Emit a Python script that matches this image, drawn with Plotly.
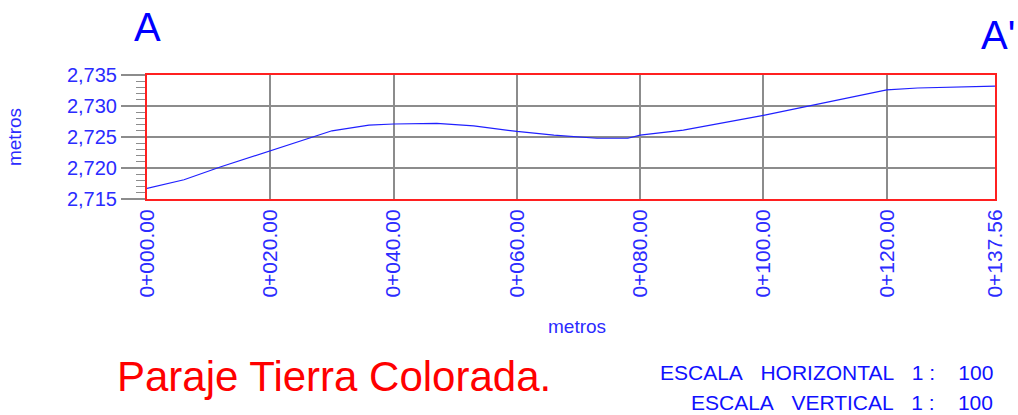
import plotly.graph_objects as go

# Profile data (station in metres, elevation)
stations = [0, 6, 12, 20, 28, 30, 36, 40, 47, 53, 60, 66, 73, 78, 80, 87, 100, 110, 120, 125, 137.56]
elevations = [2716.7, 2718.1, 2720.2, 2722.8, 2725.3, 2726.0, 2726.9, 2727.1, 2727.2, 2726.8,
              2725.9, 2725.3, 2724.8, 2724.8, 2725.3, 2726.1, 2728.5, 2730.5, 2732.6, 2732.9, 2733.2]

x_tick_vals = [0, 20, 40, 60, 80, 100, 120, 137.56]
x_tick_text = ["0+000.00", "0+020.00", "0+040.00", "0+060.00", "0+080.00",
               "0+100.00", "0+120.00", "0+137.56"]
y_tick_vals = [2715, 2720, 2725, 2730, 2735]
y_tick_text = ["2,715", "2,720", "2,725", "2,730", "2,735"]

BLUE = "#2b2bff"
FONT = "Liberation Sans, Arial, sans-serif"

fig = go.Figure()
fig.add_trace(go.Scatter(x=stations, y=elevations, mode="lines",
                         line=dict(color="#2020ff", width=1.2), hoverinfo="skip"))

fig.update_layout(
    width=1018, height=415,
    margin=dict(l=147, r=21, t=75, b=216),
    paper_bgcolor="white", plot_bgcolor="white",
    showlegend=False,
    font=dict(family=FONT, color=BLUE),
)

fig.update_xaxes(
    range=[0, 137.56], tickmode="array", tickvals=x_tick_vals, ticktext=x_tick_text,
    tickangle=-90, tickfont=dict(size=21, color=BLUE, family=FONT),
    showgrid=True, gridcolor="#8c8c8c", gridwidth=1.5,
    showline=True, linecolor="#ff2020", linewidth=2, mirror=True,
    ticks="", zeroline=False,
)
fig.update_yaxes(
    range=[2715, 2735], tickmode="array", tickvals=y_tick_vals, ticktext=y_tick_text,
    tickfont=dict(size=20, color=BLUE, family=FONT),
    showgrid=True, gridcolor="#8c8c8c", gridwidth=1.5,
    showline=True, linecolor="#ff2020", linewidth=2, mirror=True,
    ticks="outside", ticklen=24, tickcolor="#8c8c8c", tickwidth=1.5,
    minor=dict(ticks="outside", ticklen=9, tickcolor="#8c8c8c", tickwidth=1, dtick=1, showgrid=False),
    zeroline=False,
    title=dict(text="metros", font=dict(size=19, color=BLUE), standoff=40),
)

# x-axis title (placed slightly right of centre, as in the reference)
fig.add_annotation(text="metros", xref="paper", yref="paper", x=0.507, y=0, xanchor="center",
                   yanchor="middle", yshift=-127, showarrow=False,
                   font=dict(size=19, color=BLUE, family=FONT))
fig.add_annotation(text="A", xref="paper", yref="paper", x=0.0, y=1.0, xanchor="center",
                   yanchor="bottom", yshift=24, showarrow=False,
                   font=dict(size=40, color="#0000ff", family=FONT))
fig.add_annotation(text="A'", xref="paper", yref="paper", x=1.0, y=1.0, xanchor="left",
                   xshift=-16, yanchor="bottom", yshift=16, showarrow=False,
                   font=dict(size=40, color="#0000ff", family=FONT))
fig.add_annotation(text="Paraje Tierra Colorada.", xref="paper", yref="paper",
                   x=-0.038, y=0, xanchor="left", yanchor="middle", yshift=-177,
                   showarrow=False, font=dict(size=42, color="#ff0000", family=FONT))
nb = "\u00a0"
fig.add_annotation(text=f"ESCALA{nb*3}HORIZONTAL{nb*3}1{nb*1}:{nb*4}100", xref="paper", yref="paper",
                   x=1.0, y=0, xanchor="right", yanchor="middle", yshift=-173,
                   showarrow=False, font=dict(size=21, color="#1010ff", family=FONT))
fig.add_annotation(text=f"ESCALA{nb*3}VERTICAL{nb*3}1{nb*1}:{nb*4}100", xref="paper", yref="paper",
                   x=1.0, y=0, xanchor="right", yanchor="middle", yshift=-203,
                   showarrow=False, font=dict(size=21, color="#1010ff", family=FONT))

fig.write_html("out.html", config={"displayModeBar": False},
               post_script="document.body.style.margin='0';document.body.style.overflow='hidden';")
